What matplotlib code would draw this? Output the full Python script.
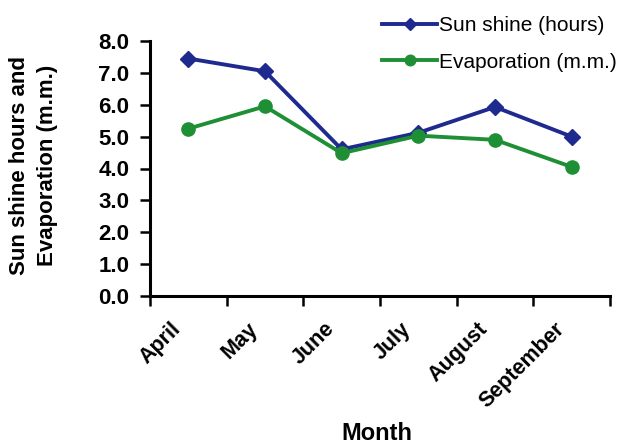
import matplotlib
matplotlib.use("Agg")
import matplotlib.pyplot as plt
import matplotlib.transforms as mtransforms
import numpy as np

months = ["April", "May", "June", "July", "August", "September"]
sunshine = [7.45, 7.05, 4.6, 5.12, 5.93, 5.0]
evaporation = [5.25, 5.95, 4.48, 5.03, 4.9, 4.05]
y_ticks = [0.0, 1.0, 2.0, 3.0, 4.0, 5.0, 6.0, 7.0, 8.0]

plt.rcParams["font.family"] = ["Liberation Sans", "DejaVu Sans"]

fig = plt.figure(figsize=(6.21, 4.46), dpi=100)
ax = fig.add_axes([150 / 621, 1 - 296 / 446, 460 / 621, 255 / 446])

x = np.arange(len(months))
blue = "#1f2a8f"
green = "#1f8f35"
ax.plot(x, sunshine, color=blue, lw=2.8, marker="D", ms=8, label="Sun shine (hours)")
ax.plot(x, evaporation, color=green, lw=2.8, marker="o", ms=9.5, label="Evaporation (m.m.)")

ax.set_xlim(-0.5, len(months) - 0.5)
ax.set_ylim(0, 8)
ax.set_yticks(y_ticks)
ax.set_yticklabels([f"{v:.1f}" for v in y_ticks], fontsize=16, fontweight="bold")

# tick marks at category boundaries, labels at category centres
ax.set_xticks(np.arange(len(months) + 1) - 0.5)
ax.set_xticklabels([])
ax.set_xticks(x, minor=True)
ax.set_xticklabels(months, minor=True, rotation=45, ha="right",
                   rotation_mode="anchor", fontsize=15.5, fontweight="bold")
ax.tick_params(axis="x", which="minor", length=0, pad=16)
ax.tick_params(axis="both", which="major", length=7, width=1.8, color="black")
ax.tick_params(axis="y", pad=8)

shift = mtransforms.ScaledTranslation(-18 / 100, 0, fig.dpi_scale_trans)
for lbl in ax.get_xticklabels(minor=True):
    lbl.set_transform(lbl.get_transform() + shift)

for s in ["top", "right"]:
    ax.spines[s].set_visible(False)
for s in ["left", "bottom"]:
    ax.spines[s].set_linewidth(2.2)

fig.text(20 / 621, 1 - 165 / 446, "Sun shine hours and", rotation=90,
         ha="center", va="center", fontsize=16, fontweight="bold")
fig.text(48 / 621, 1 - 165 / 446, "Evaporation (m.m.)", rotation=90,
         ha="center", va="center", fontsize=16, fontweight="bold")
fig.text(377 / 621, 1 - 433 / 446, "Month", ha="center", va="center",
         fontsize=17, fontweight="bold")

leg = ax.legend(loc="upper left", bbox_to_anchor=(382 / 621, 1 - 16 / 446),
                bbox_transform=fig.transFigure, frameon=False, fontsize=15,
                handlelength=2.64, handletextpad=0.1, labelspacing=0.85,
                borderaxespad=0, borderpad=0, markerscale=0.8)

fig.savefig("out.png", dpi=100, facecolor="white")
